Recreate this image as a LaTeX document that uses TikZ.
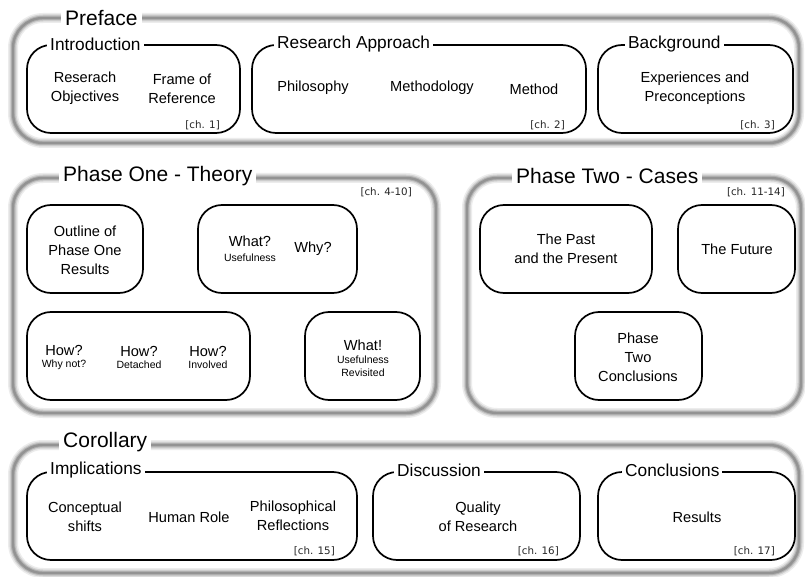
\documentclass[tikz,border=0pt]{standalone}
\usepackage{fontspec}
\setmainfont{Liberation Sans}
\newfontfamily\chfont{DejaVu Sans}
\begin{document}
\begin{tikzpicture}[x=1pt,y=-1pt,
  frame/.style={draw=gray!85, line width=2.4pt, rounded corners=30pt,
    preaction={draw=gray!15, line width=10pt},
    preaction={draw=gray!35, line width=7pt},
    preaction={draw=gray!60, line width=4.5pt}},
  box/.style={draw=black, line width=1.7pt, rounded corners=24pt},
  ftitle/.style={font=\fontsize{21}{24}\selectfont, fill=white, inner xsep=4pt, inner ysep=1pt, anchor=west},
  btitle/.style={font=\fontsize{17.3}{20}\selectfont, fill=white, inner xsep=3pt, inner ysep=1pt, anchor=west},
  lbl/.style={font=\fontsize{14.6}{19}\selectfont, align=center, inner sep=0pt},
  sub/.style={font=\fontsize{10.5}{13}\selectfont, align=center, inner sep=0pt},
  ch/.style={font=\chfont\fontsize{10.3}{12}\selectfont, text=black!85, inner sep=0pt, anchor=east}]

\useasboundingbox[fill=white] (0,0) rectangle (805,577);

% ---------- outer frames ----------
\draw[frame] (13,18) rectangle (799,143);
\draw[frame] (13,178) rectangle (436,413);
\draw[frame] (467,178) rectangle (801,413);
\draw[frame] (13,445) rectangle (799,573);

% ---------- Preface ----------
\draw[box] (27,45) rectangle (240,133);
\draw[box] (252,45) rectangle (586,133);
\draw[box] (598,45) rectangle (793,133);

\node[ftitle] (preface) at (61,18) {Preface};
\node[btitle] (intro) at (47,44) {Introduction};
\node[btitle] (approach) at (274,44) {Research Approach};
\node[btitle] (background) at (625,44) {Background};

\node[lbl] (objectives) at (85,88) {Reserach\\Objectives};
\node[lbl] (frameref) at (182,89) {Frame of\\Reference};
\node[ch] (ch1) at (220,125) {[ch. 1]};

\node[lbl] (philosophy) at (313,88) {Philosophy};
\node[lbl] (methodology) at (432,88) {Methodology};
\node[lbl] (method) at (534,89) {Method};
\node[ch] (ch2) at (565,125) {[ch. 2]};

\node[lbl] (experiences) at (695,88) {Experiences and\\Preconceptions};
\node[ch] (ch3) at (775,125) {[ch. 3]};

% ---------- Phase One ----------
\node[ftitle] (phaseone) at (59,176) {Phase One - Theory};
\node[ch] (ch410) at (412,192) {[ch. 4-10]};

\draw[box] (27,205) rectangle (143,293);
\draw[box] (198,205) rectangle (357,293);
\draw[box] (27,312) rectangle (250,400);
\draw[box] (305,312) rectangle (420,400);

\node[lbl] (outline) at (85,250) {Outline of\\Phase One\\Results};
\node[lbl] (what) at (250,241) {What?};
\node[sub] (usef) at (250,258) {Usefulness};
\node[lbl] (why) at (313,249) {Why?};

\node[lbl] (how1) at (64,350) {How?};
\node[sub] (whynot) at (64,365) {Why not?};
\node[lbl] (how2) at (139,351) {How?};
\node[sub] (detached) at (139,365) {Detached};
\node[lbl] (how3) at (208,351) {How?};
\node[sub] (involved) at (208,365) {Involved};

\node[lbl] (whatx) at (363,345) {What!};
\node[sub] (usefrev) at (363,366) {Usefulness\\Revisited};

% ---------- Phase Two ----------
\node[ftitle] (phasetwo) at (512,176) {Phase Two - Cases};
\node[ch] (ch1114) at (785,192) {[ch. 11-14]};

\draw[box] (480,205) rectangle (652,293);
\draw[box] (678,205) rectangle (795,293);
\draw[box] (575,312) rectangle (702,400);

\node[lbl] (past) at (566,249) {The Past\\and the Present};
\node[lbl] (future) at (737,249) {The Future};
\node[lbl] (p2concl) at (638,357) {Phase\\Two\\Conclusions};

% ---------- Corollary ----------
\node[ftitle] (corollary) at (59,442) {Corollary};

\draw[box] (27,472) rectangle (357,560);
\draw[box] (373,472) rectangle (580,560);
\draw[box] (598,472) rectangle (795,560);

\node[btitle] (implications) at (47,470) {Implications};
\node[btitle] (discussion) at (394,470) {Discussion};
\node[btitle] (conclusions) at (622,470) {Conclusions};

\node[lbl] (concshift) at (85,517) {Conceptual\\shifts};
\node[lbl] (human) at (189,517) {Human Role};
\node[lbl] (philrefl) at (293,516) {Philosophical\\Reflections};
\node[ch] (ch15) at (335,551) {[ch. 15]};

\node[lbl] (quality) at (478,517) {Quality\\of Research};
\node[ch] (ch16) at (559,551) {[ch. 16]};

\node[lbl] (results) at (697,517) {Results};
\node[ch] (ch17) at (775,551) {[ch. 17]};
\end{tikzpicture}
\end{document}
